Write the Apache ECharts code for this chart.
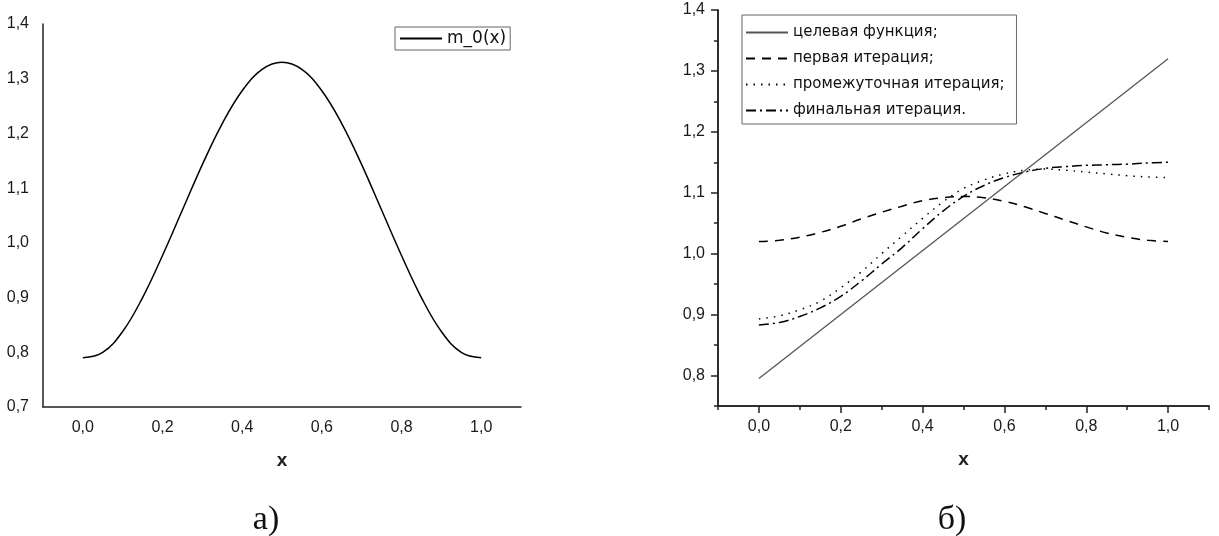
<!DOCTYPE html>
<html>
<head>
<meta charset="utf-8">
<script src="https://cdn.jsdelivr.net/npm/echarts@6/dist/echarts.min.js"></script>
<style>
html,body{margin:0;padding:0;background:#fff;}
#c{width:1219px;height:536px;}
</style>
</head>
<body>
<div id="c"></div>
<script>
// ---- data ----
const xGrid = [0,0.05,0.1,0.15,0.2,0.25,0.3,0.35,0.4,0.45,0.5,0.55,0.6,0.65,0.7,0.75,0.8,0.85,0.9,0.95,1.0];
const m0 = [0.790,0.800,0.838,0.900,0.977,1.060,1.143,1.218,1.278,1.317,1.330,1.317,1.278,1.218,1.143,1.060,0.977,0.900,0.838,0.800,0.790];
const targetX = [0, 1];
const targetY = [0.795, 1.320];
const firstIter = [1.020,1.022,1.027,1.035,1.045,1.057,1.068,1.078,1.087,1.092,1.094,1.092,1.086,1.077,1.066,1.055,1.044,1.034,1.027,1.022,1.020];
const midIter = [0.893,0.898,0.908,0.922,0.944,0.970,1.000,1.029,1.058,1.085,1.107,1.121,1.131,1.137,1.139,1.137,1.134,1.131,1.128,1.126,1.125];
const finalIter = [0.883,0.887,0.897,0.911,0.930,0.955,0.983,1.010,1.041,1.070,1.094,1.112,1.125,1.134,1.140,1.143,1.145,1.146,1.147,1.149,1.150];
const xTickLabels = [0,0.2,0.4,0.6,0.8,1.0];
const xMinorTicks = [-0.1,0.1,0.3,0.5,0.7,0.9,1.1];
const yLabelsR = [0.8,0.9,1.0,1.1,1.2,1.3,1.4];
const yMinorR = [0.75,0.85,0.95,1.05,1.15,1.25,1.35];
const seriesNames = ['целевая функция;','первая итерация;','промежуточная итерация;','финальная итерация.'];
const leftName = 'm_0(x)';
const captions = ['а)','б)'];

const zip = (xs, ys) => xs.map((x,i)=>[x, ys[i]]);
const fmt = v => (Math.round(v*10)/10).toFixed(1).replace('.', ',');
const axisFont = {fontFamily:'Liberation Sans', fontSize:16, color:'#1a1a1a'};
const nameFont = {fontFamily:'Liberation Sans', fontSize:19, fontWeight:'bold', color:'#222'};
const axLine = {show:true, onZero:false, lineStyle:{color:'#222', width:1.5}};
const capFont = {fontFamily:'Liberation Serif', fontSize:34, fontWeight:'normal', color:'#111'};

const chart = echarts.init(document.getElementById('c'), null, {renderer:'canvas'});
chart.setOption({
  animation:false,
  backgroundColor:'#fff',
  title:[
    {text:captions[0], left:261, top:515, textAlign:'center', textVerticalAlign:'middle', textStyle:capFont},
    {text:captions[1], left:947, top:515, textAlign:'center', textVerticalAlign:'middle', textStyle:capFont}
  ],
  grid:[
    {left:43, top:24, width:478, height:383},
    {left:718, top:10, width:491, height:396}
  ],
  legend:[
    {data:[leftName], left:395, top:27, orient:'vertical', itemWidth:42, itemHeight:12, itemGap:6,
     padding:[3,4,3,4], borderColor:'#666', borderWidth:1, backgroundColor:'#fff',
     itemStyle:{opacity:0},
     textStyle:{fontFamily:'DejaVu Sans', fontSize:17, color:'#111'}},
    {data:seriesNames, left:742, top:15, orient:'vertical', itemWidth:42, itemHeight:14, itemGap:11,
     padding:[10,12,6,3], borderColor:'#666', borderWidth:1, backgroundColor:'#fff',
     itemStyle:{opacity:0},
     textStyle:{fontFamily:'DejaVu Sans', fontSize:15, color:'#111'}}
  ],
  xAxis:[
    {gridIndex:0, type:'value', position:'bottom', min:-0.1, max:1.1, axisLine:axLine, axisTick:{show:false}, splitLine:{show:false},
     axisLabel:Object.assign({margin:13, customValues:xTickLabels, formatter:fmt}, axisFont),
     name:'x', nameLocation:'middle', nameGap:44, nameTextStyle:nameFont},
    {gridIndex:1, type:'value', position:'bottom', min:-0.1, max:1.1, axisLine:axLine,
     axisTick:{show:true, inside:false, length:7, customValues:xTickLabels, lineStyle:{color:'#222', width:1.5}}, splitLine:{show:false},
     axisLabel:Object.assign({margin:13, customValues:xTickLabels, formatter:fmt}, axisFont),
     name:'x', nameLocation:'middle', nameGap:44, nameTextStyle:nameFont},
    {gridIndex:1, type:'value', position:'bottom', offset:0, min:-0.1, max:1.1, axisLine:axLine,
     axisTick:{show:true, length:4, customValues:xMinorTicks, lineStyle:{color:'#222', width:1.5}}, splitLine:{show:false},
     axisLabel:{show:false}}
  ],
  yAxis:[
    {gridIndex:0, type:'value', position:'left', min:0.7, max:1.4, interval:0.1, axisLine:axLine, axisTick:{show:false}, splitLine:{show:false},
     axisLabel:Object.assign({margin:14, formatter:fmt}, axisFont)},
    {gridIndex:1, type:'value', position:'left', min:0.75, max:1.4, axisLine:axLine,
     axisTick:{show:true, length:7, customValues:yLabelsR, lineStyle:{color:'#222', width:1.5}}, splitLine:{show:false},
     axisLabel:Object.assign({margin:13, customValues:yLabelsR, formatter:fmt}, axisFont)},
    {gridIndex:1, type:'value', position:'left', offset:0, min:0.75, max:1.4, axisLine:axLine,
     axisTick:{show:true, length:4, customValues:yMinorR, lineStyle:{color:'#222', width:1.5}}, splitLine:{show:false},
     axisLabel:{show:false}}
  ],
  series:[
    {name:leftName, type:'line', xAxisIndex:0, yAxisIndex:0, data:zip(xGrid, m0), smooth:0.4, showSymbol:false, symbol:'none',
     color:'#000', lineStyle:{color:'#000', width:1.5}},
    {name:seriesNames[0], type:'line', xAxisIndex:1, yAxisIndex:1, data:zip(targetX, targetY), showSymbol:false, symbol:'none',
     color:'#555', lineStyle:{color:'#555', width:1.3}},
    {name:seriesNames[1], type:'line', xAxisIndex:1, yAxisIndex:1, data:zip(xGrid, firstIter), smooth:0.4, showSymbol:false, symbol:'none',
     color:'#000', lineStyle:{color:'#000', width:1.5, type:[9,7]}},
    {name:seriesNames[2], type:'line', xAxisIndex:1, yAxisIndex:1, data:zip(xGrid, midIter), smooth:0.4, showSymbol:false, symbol:'none',
     color:'#000', lineStyle:{color:'#000', width:1.5, type:[1.5,6]}},
    {name:seriesNames[3], type:'line', xAxisIndex:1, yAxisIndex:1, data:zip(xGrid, finalIter), smooth:0.4, showSymbol:false, symbol:'none',
     color:'#000', lineStyle:{color:'#000', width:1.5, type:[10,4,2,4]}}
  ]
});
</script>
</body>
</html>
